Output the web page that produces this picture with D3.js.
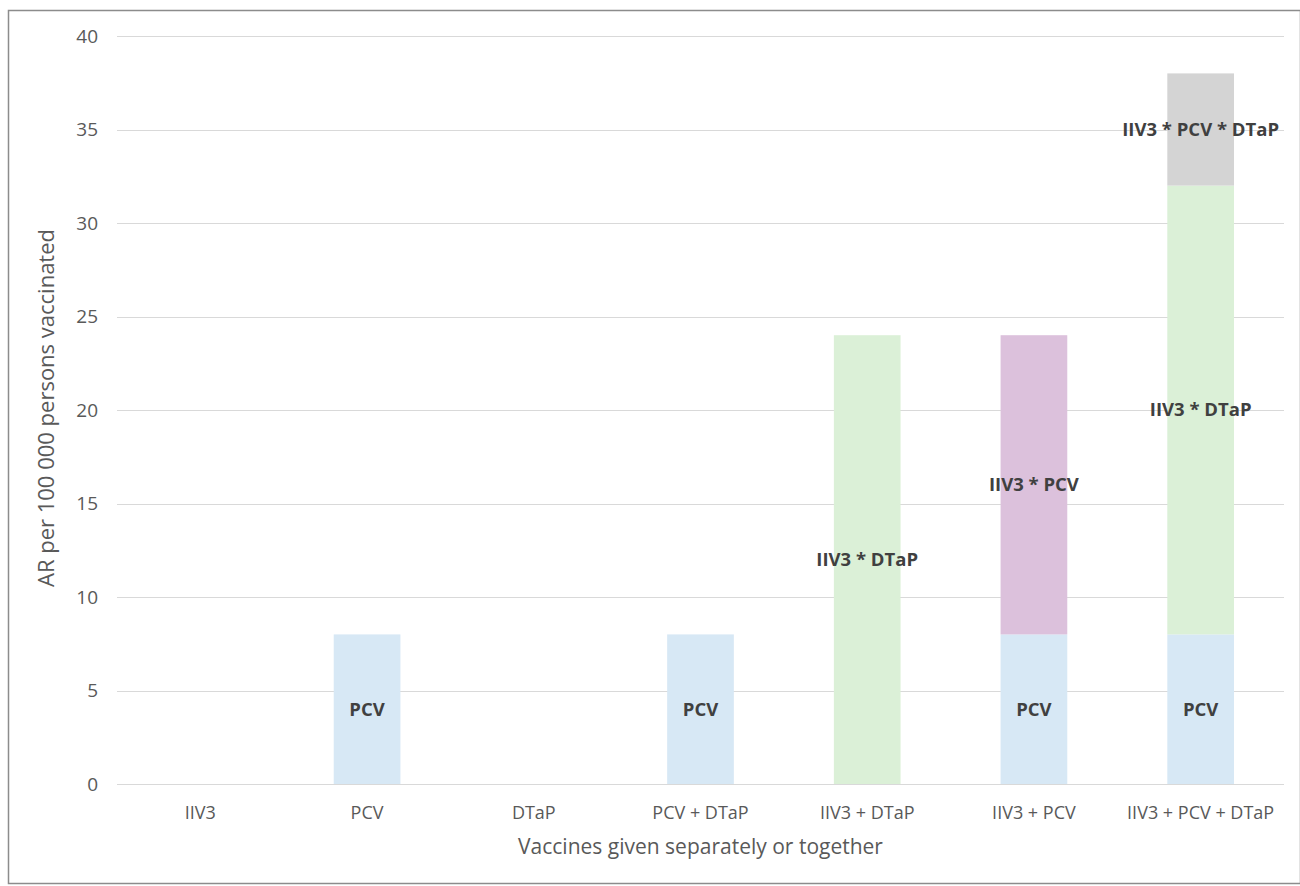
<!DOCTYPE html>
<html>
<head>
<meta charset="utf-8">
<script src="https://cdn.jsdelivr.net/npm/d3@7"></script>
<style>
  body { margin: 0; background: #fff; }
  svg { display: block; font-family: "Open Sans", "Liberation Sans", sans-serif; }
</style>
</head>
<body>
<script>
// categories and stacked series (AR per 100 000)
const categories = ["IIV3", "PCV", "DTaP", "PCV + DTaP", "IIV3 + DTaP", "IIV3 + PCV", "IIV3 + PCV + DTaP"];
const seriesNames = ["PCV", "IIV3 * DTaP", "IIV3 * PCV", "IIV3 * PCV * DTaP"];
const pcv        = [0, 8, 0, 8, 0, 8, 8];
const iiv3Dtap   = [0, 0, 0, 0, 24, 0, 24];
const iiv3Pcv    = [0, 0, 0, 0, 0, 16, 0];
const iiv3PcvDtap = [0, 0, 0, 0, 0, 0, 6];
const yTicks = [0, 5, 10, 15, 20, 25, 30, 35, 40];
const colors = ["#d7e8f5", "#dbf0d7", "#dcc1dc", "#d4d4d4"];

const W = 1300, H = 886,
      margin = {top: 36, right: 16, bottom: 102, left: 117};

const rows = categories.map((c, i) => ({
  cat: c,
  "PCV": pcv[i],
  "IIV3 * DTaP": iiv3Dtap[i],
  "IIV3 * PCV": iiv3Pcv[i],
  "IIV3 * PCV * DTaP": iiv3PcvDtap[i]
}));
const stacked = d3.stack().keys(seriesNames)(rows);

const x = d3.scaleBand().domain(categories)
    .range([margin.left, W - margin.right]).paddingInner(0.6).paddingOuter(0.3);
const y = d3.scaleLinear().domain([0, 40]).range([H - margin.bottom, margin.top]);

const svg = d3.select("body").append("svg")
    .attr("width", W).attr("height", H);

// outer frame
svg.append("rect")
    .attr("x", 8.5).attr("y", 10.5)
    .attr("width", W - 8).attr("height", H - 13)
    .attr("fill", "none").attr("stroke", "#8c8c8c").attr("stroke-width", 1.5);

// gridlines
svg.append("g").selectAll("line").data(yTicks).join("line")
    .attr("x1", margin.left).attr("x2", W - margin.right)
    .attr("y1", d => Math.round(y(d)) + 0.5).attr("y2", d => Math.round(y(d)) + 0.5)
    .attr("stroke", "#d9d9d9").attr("stroke-width", 1);

// y tick labels
svg.append("g").selectAll("text").data(yTicks).join("text")
    .attr("x", 98).attr("y", d => y(d))
    .attr("dy", "0.35em").attr("text-anchor", "end")
    .attr("font-size", 19).attr("fill", "#595959")
    .text(d => d);

// bars
const layers = svg.append("g").selectAll("g").data(stacked).join("g")
    .attr("fill", (d, i) => colors[i]);
layers.selectAll("rect").data(d => d.filter(s => s[1] > s[0])).join("rect")
    .attr("x", d => x(d.data.cat))
    .attr("width", x.bandwidth())
    .attr("y", d => y(d[1]))
    .attr("height", d => y(d[0]) - y(d[1]));

// segment labels
layers.selectAll("text").data(d => d.filter(s => s[1] > s[0]).map(s => ({s, key: d.key}))).join("text")
    .attr("x", d => x(d.s.data.cat) + x.bandwidth() / 2)
    .attr("y", d => y((d.s[0] + d.s[1]) / 2))
    .attr("dy", "0.35em").attr("text-anchor", "middle")
    .attr("font-size", 18.5).attr("font-weight", "bold").attr("fill", "#404040")
    .text(d => d.key);

// x category labels
svg.append("g").selectAll("text").data(categories).join("text")
    .attr("x", d => x(d) + x.bandwidth() / 2)
    .attr("y", 813)
    .attr("dy", "0.35em").attr("text-anchor", "middle")
    .attr("font-size", 18).attr("fill", "#595959")
    .text(d => d);

// axis titles
svg.append("text")
    .attr("x", (margin.left + W - margin.right) / 2).attr("y", 847)
    .attr("dy", "0.35em").attr("text-anchor", "middle")
    .attr("font-size", 21).attr("fill", "#595959")
    .text("Vaccines given separately or together");

svg.append("text")
    .attr("transform", "translate(46,408) rotate(-90)")
    .attr("dy", "0.35em").attr("text-anchor", "middle")
    .attr("font-size", 22).attr("fill", "#595959")
    .text("AR per 100 000 persons vaccinated");
</script>
</body>
</html>
